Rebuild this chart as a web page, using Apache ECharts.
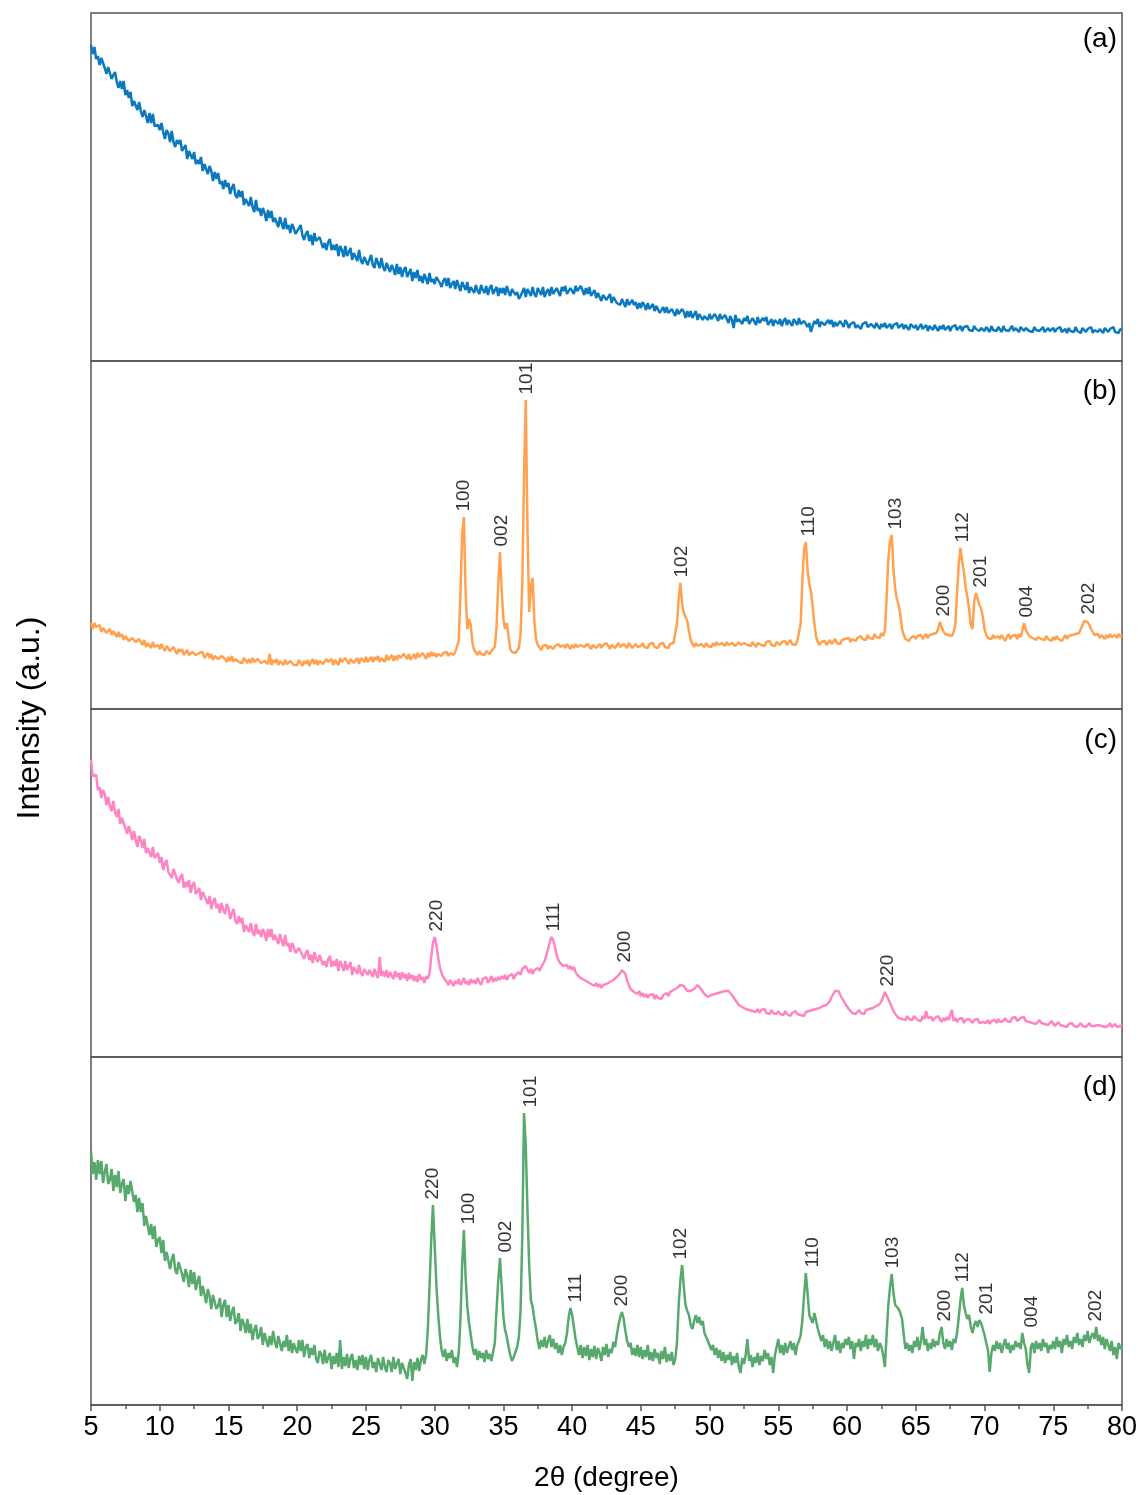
<!DOCTYPE html>
<html><head><meta charset="utf-8">
<script src="https://cdn.jsdelivr.net/npm/echarts@6/dist/echarts.min.js"></script>
<style>html,body{margin:0;padding:0;background:#fff}#c{width:1143px;height:1495px}</style>
</head><body><div id="c"></div>
<script>
// 2θ grid: first angle and step (degrees); each series lists intensities on this grid (5 → 80)
const X_START = 5;
const X_STEP = 0.125;
const X_MIN = 5, X_MAX = 80, X_INTERVAL = 5;

// (a) blue
const seriesA = [
316,307,314,302,305,296,303,304,293,287,294,293,282,286,289,279,273,280,272,280,266,271,263,269,255,260,262,251,259,250,244,251,245,238,248,238,247,235,233,236,
231,238,229,222,231,228,219,230,219,214,221,217,221,210,211,216,202,210,210,202,209,197,201,197,204,190,197,192,187,195,190,180,189,182,188,177,180,172,181,174,
178,167,173,177,166,163,171,164,170,156,162,163,155,164,154,149,161,150,153,145,153,148,140,151,143,150,139,143,144,134,144,137,132,143,132,136,128,137,133,127,
126,133,136,126,121,127,130,120,126,116,128,120,118,124,125,113,118,111,119,122,111,116,111,117,105,115,111,104,115,105,107,113,101,108,109,100,111,101,97,104,
105,96,101,106,96,93,103,98,93,103,94,90,98,100,89,96,92,86,97,87,94,84,91,94,84,86,92,80,89,83,91,80,85,78,87,85,77,88,79,82,
77,84,85,78,74,80,83,75,83,73,77,80,72,81,75,70,79,77,71,79,68,74,76,68,76,70,67,76,71,68,75,66,73,76,67,69,74,65,73,68,
73,66,75,69,65,72,73,66,69,62,65,67,73,64,72,70,65,74,67,64,73,71,66,74,64,69,72,65,74,67,66,73,71,65,74,70,75,67,67,73,
73,67,75,70,68,75,71,66,73,67,74,65,67,71,63,68,69,60,66,68,61,62,67,58,64,65,58,60,56,62,61,54,62,56,54,61,56,59,52,58,
53,59,56,51,58,52,53,57,50,55,56,48,51,54,48,54,48,46,52,50,45,52,47,45,52,49,43,50,44,50,43,45,50,41,47,48,41,45,47,41,
47,42,40,47,44,40,47,42,40,46,44,38,45,41,33,46,39,42,44,37,43,40,45,37,38,43,41,36,44,38,37,43,40,44,36,38,42,35,41,40,
37,42,35,40,43,36,41,38,35,42,40,36,43,37,35,40,42,34,38,29,35,40,37,42,34,39,41,36,34,41,37,41,34,39,35,33,40,38,34,41,
38,33,37,35,39,33,36,38,32,37,35,39,34,32,37,36,33,38,35,32,37,34,38,33,35,37,32,36,34,38,33,35,37,32,36,34,31,37,35,33,
36,31,34,37,32,33,36,30,35,33,31,36,34,30,35,32,36,31,33,35,30,34,32,36,31,33,35,30,34,32,35,31,33,30,35,32,34,30,33,35,
30,34,32,29,35,31,33,30,34,32,29,35,31,33,30,32,35,30,33,31,29,34,32,30,33,35,30,32,29,34,31,33,30,32,34,29,31,33,30,32,
33,29,32,30,34,29,31,32,28,33,30,32,29,34,30,31,28,33,31,29,32,30,34,28,31,33,29,32,30,28,33,31,29,32,30,34,29,31,28,32,
31];

// (b) orange
const seriesB = [
86,80,86,82,80,84,77,81,82,76,77,80,74,78,75,72,77,72,75,69,73,74,68,67,71,72,67,65,70,67,64,69,62,66,66,61,67,62,61,64,
60,65,61,58,63,63,58,56,62,60,55,60,57,60,54,56,59,54,53,57,58,54,52,56,54,57,51,52,56,51,55,49,53,55,50,48,53,54,50,47,
52,48,53,47,50,52,47,49,46,51,52,46,50,46,51,47,45,50,51,46,45,48,50,45,55,44,49,46,50,44,48,49,44,49,45,43,48,49,44,46,
44,49,47,43,48,45,49,43,47,50,45,49,44,48,50,45,44,50,47,45,50,44,49,48,44,51,47,46,51,48,45,50,51,46,47,51,45,51,49,47,
52,47,49,52,47,52,49,53,47,51,52,47,54,49,51,54,48,53,49,54,51,49,55,53,50,55,49,52,55,50,56,52,51,56,54,50,56,52,57,53,
56,52,55,57,53,56,54,57,53,56,58,54,57,58,68,115,175,192,118,80,90,84,66,59,57,54,58,55,57,54,58,56,55,58,57,62,82,125,157,118,
90,80,86,72,60,57,59,56,58,61,75,125,235,309,183,97,122,131,88,70,64,62,59,63,61,64,60,63,65,60,63,61,65,62,60,64,61,65,63,60,
64,61,65,62,60,64,66,62,61,65,63,60,64,66,61,63,65,61,64,62,66,63,60,64,65,61,63,66,62,61,65,63,61,66,64,61,63,65,62,64,
63,66,62,64,61,65,63,66,62,64,61,65,63,66,62,64,61,65,63,66,67,85,110,126,105,96,92,88,78,69,65,62,66,63,61,65,64,62,66,63,
65,62,66,63,67,64,62,66,65,63,67,64,62,66,68,63,65,67,64,62,66,68,64,65,63,67,65,62,66,68,64,66,63,67,65,68,64,66,63,67,
66,64,67,65,68,64,66,69,65,67,64,68,70,85,130,160,167,140,125,117,102,85,72,67,64,67,65,68,64,66,69,65,67,70,66,68,65,69,67,70,
68,71,67,70,72,68,71,69,73,70,72,69,74,71,73,70,75,72,74,71,76,73,78,110,150,168,174,140,120,110,104,94,80,74,70,72,68,71,69,73,
70,73,71,74,70,72,75,71,74,72,75,73,76,80,87,82,78,75,77,74,76,73,77,84,116,145,161,148,137,122,112,100,84,80,108,116,110,104,101,92,
80,74,71,73,70,74,71,69,73,70,74,71,68,72,75,70,73,71,74,70,75,72,78,86,79,76,73,75,71,73,69,72,74,70,72,69,73,70,72,68,
72,69,73,70,72,68,71,74,70,73,71,74,72,75,73,76,80,84,88,89,87,84,80,77,74,72,75,71,74,72,70,74,71,75,72,70,74,71,75,72,
74];

// (c) pink
const seriesC = [
297,281,282,282,267,270,259,267,263,252,260,251,246,256,245,240,248,233,239,240,229,223,231,225,217,226,217,210,221,217,209,218,204,209,211,200,210,199,199,204,
194,200,187,194,197,185,187,179,188,188,178,174,180,183,169,175,170,177,164,172,175,163,165,169,157,165,167,157,153,161,148,155,159,149,153,144,154,147,143,153,
149,138,144,148,136,133,141,134,139,125,132,134,125,134,125,121,133,123,127,120,128,124,116,128,120,128,117,122,123,113,123,116,111,122,111,114,105,114,110,104,
102,109,111,102,98,104,107,97,102,94,105,98,95,102,103,92,96,90,98,101,90,96,91,98,86,96,92,86,96,87,88,95,82,90,91,83,92,84,81,88,
89,82,87,84,80,88,83,79,100,81,86,80,87,79,85,81,78,86,80,84,77,85,79,83,76,84,78,82,76,81,75,83,77,80,74,81,78,84,100,114,
120,112,100,90,84,80,78,75,72,77,74,71,76,73,78,72,75,79,73,76,72,78,74,77,73,79,75,72,78,76,80,74,77,81,75,79,76,80,77,81,
78,82,77,81,79,83,78,82,80,85,82,88,86,91,87,84,88,83,87,85,89,86,90,93,96,102,108,115,120,117,110,102,97,94,96,91,89,92,88,91,
87,90,85,82,84,79,81,77,79,75,77,73,75,71,74,70,73,69,72,70,73,71,75,73,77,76,80,79,84,87,89,83,76,72,68,70,65,67,63,66,
61,64,60,63,59,62,60,63,58,62,59,61,58,62,60,64,61,65,63,67,65,69,68,72,74,71,69,66,64,66,65,68,70,72,70,68,66,63,62,60,
59,62,60,63,61,64,62,65,63,66,64,66,65,62,60,57,55,52,54,50,51,48,50,47,49,46,48,45,48,44,47,45,48,44,46,43,47,44,46,43,
46,43,45,42,46,43,45,41,44,42,46,43,45,42,44,41,45,43,46,44,47,45,48,46,49,48,51,50,52,54,56,60,63,66,67,66,62,59,56,53,
51,48,46,44,46,43,45,47,44,46,43,47,45,48,46,49,48,51,50,53,56,60,65,64,58,54,50,46,43,41,39,41,38,40,37,41,38,40,37,41,
40,37,39,36,41,38,46,39,37,40,36,39,37,41,38,35,39,36,40,37,38,47,36,39,35,38,36,39,34,37,35,38,36,34,37,35,38,34,36,35,
36,34,37,33,36,35,37,34,38,35,37,36,39,36,38,35,39,37,40,36,38,39,37,40,36,38,35,37,34,36,33,35,37,34,36,33,35,32,34,36,
34,31,33,35,32,34,31,33,30,33,32,34,31,33,30,32,34,31,33,30,32,34,31,33,31,29,32,34,31,33,30,32,31,34,30,32,33,30,32,31,
32];

// (d) green
const seriesD = [
254,231,243,225,245,231,244,222,233,241,221,225,236,214,230,218,234,212,221,226,204,220,211,224,222,203,210,193,207,193,202,179,189,191,170,181,166,179,158,165,
168,152,165,144,153,155,136,146,151,135,131,143,145,131,123,136,130,118,135,121,133,115,124,129,109,119,111,102,116,109,96,110,111,96,99,107,88,100,105,88,
100,84,93,98,81,84,92,74,86,81,72,86,72,81,65,75,80,66,69,78,60,72,74,58,69,60,74,63,57,69,71,54,64,58,70,54,65,52,62,56,
52,65,54,65,48,58,61,47,57,50,60,46,42,54,51,41,55,42,44,52,36,49,41,52,38,65,36,48,39,51,37,47,51,37,45,35,49,40,50,36,
48,35,45,50,37,43,33,47,45,35,48,38,33,45,42,33,48,36,37,46,31,42,44,32,26,40,46,24,43,35,47,34,45,50,41,50,75,118,165,200,
160,120,92,70,55,48,56,44,52,47,55,42,48,38,52,85,140,175,128,98,82,70,58,50,56,45,54,47,52,43,55,46,51,44,53,62,95,125,147,118,
88,75,68,58,50,44,48,53,58,68,95,170,292,260,195,140,105,98,86,76,64,56,65,58,68,57,64,70,58,66,56,62,52,60,50,58,62,72,88,97,
90,78,66,58,50,60,47,58,49,60,45,56,48,59,46,57,52,44,58,50,61,48,56,52,63,58,70,80,88,93,86,74,64,58,62,50,57,49,60,48,
58,46,55,48,60,45,53,44,56,47,52,41,54,46,58,43,51,44,53,40,46,62,100,125,140,118,100,94,90,80,76,84,90,82,88,80,84,72,74,64,
62,55,60,50,57,47,55,44,53,42,50,45,53,40,49,42,52,38,32,47,41,50,66,44,50,38,48,42,52,40,49,44,55,46,52,40,48,32,50,58,
66,52,60,50,62,52,58,64,55,62,50,60,64,70,85,110,132,112,90,86,82,92,84,76,74,64,70,58,66,56,64,54,62,70,55,64,52,62,57,66,
60,68,56,64,46,62,58,66,54,64,58,70,56,66,60,70,58,66,54,62,58,50,38,70,100,118,131,112,100,102,96,92,86,70,56,62,54,60,52,64,
58,68,55,64,78,60,66,54,62,56,66,58,64,60,72,78,62,56,66,58,64,55,66,62,72,88,105,117,100,92,86,90,78,72,80,84,78,85,82,76,
70,62,55,33,52,60,54,64,56,62,52,60,66,56,62,52,60,55,64,58,62,56,72,62,56,40,32,58,62,52,64,56,62,54,66,58,62,52,60,56,
64,56,68,58,64,52,66,60,70,58,64,56,68,62,72,60,66,58,70,64,74,62,68,72,66,78,64,70,60,68,56,66,60,54,64,50,58,46,62,56,
60];

// peak annotations: [2θ, hkl]
const labelsB = [[32.09,'100'],[34.9,'002'],[36.73,'101'],[48.0,'102'],[57.2,'110'],[63.55,'103'],[67.0,'200'],[68.4,'112'],[69.75,'201'],[73.1,'004'],[77.6,'202']];
const labelsC = [[30.15,'220'],[38.7,'111'],[43.8,'200'],[62.95,'220']];
const labelsD = [[29.88,'220'],[32.45,'100'],[35.15,'002'],[36.97,'101'],[40.3,'111'],[43.6,'200'],[47.9,'102'],[57.5,'110'],[63.3,'103'],[67.1,'200'],[68.45,'112'],[70.15,'201'],[73.4,'004'],[78.1,'202']];

const panelNames = ['(a)','(b)','(c)','(d)'];
const colors = ['#0a79bf','#ffa14e','#ff85c2','#57a96d'];
const FONT = 'Arial, "Liberation Sans", Helvetica, sans-serif';

const allSeries = [seriesA, seriesB, seriesC, seriesD];
const allLabels = [[], labelsB, labelsC, labelsD];

function toPairs(vals){ return vals.map((v,i)=>[X_START + i*X_STEP, v]); }
function peakNear(vals, x){
  let m = -Infinity;
  vals.forEach((v,i)=>{ const xx = X_START + i*X_STEP; if (xx >= x-0.7 && xx <= x+0.3 && v > m) m = v; });
  return m;
}

const PANEL_TOP = 13, PANEL_H = 348;
const grids = [], xAxes = [], yAxes = [], series = [];
for (let k=0;k<4;k++){
  grids.push({left:91, right:21, top:PANEL_TOP + PANEL_H*k, height:PANEL_H, show:true,
    borderColor:'#555', borderWidth:1.5, backgroundColor:'transparent'});
  const last = k===3;
  xAxes.push({gridIndex:k, type:'value', min:X_MIN, max:X_MAX, interval:X_INTERVAL, show:last,
    axisLine:{show:true, onZero:false, lineStyle:{color:'#555', width:1.5}},
    axisTick:{show:true, inside:false, length:6, lineStyle:{color:'#555', width:1.5}},
    minorTick:{show:true, splitNumber:2, length:4, lineStyle:{color:'#555', width:1.5}},
    splitLine:{show:false}, minorSplitLine:{show:false},
    axisLabel:{fontSize:27, color:'#000', margin:9, fontFamily:FONT},
    name: last ? '2θ (degree)' : '', nameLocation:'middle', nameGap:59,
    nameTextStyle:{fontSize:28, color:'#000', fontFamily:FONT}
  });
  yAxes.push({gridIndex:k, type:'value', min:0, max:PANEL_H, show:false});
  series.push({type:'line', xAxisIndex:k, yAxisIndex:k, data:toPairs(allSeries[k]),
    showSymbol:false, symbol:'none', lineStyle:{color:colors[k], width:2.5}, silent:true, z:3});
  if (allLabels[k].length){
    series.push({type:'scatter', xAxisIndex:k, yAxisIndex:k, symbolSize:1, silent:true, z:4,
      itemStyle:{color:'rgba(0,0,0,0)'},
      data: allLabels[k].map(([x,t])=>({name:t, value:[x, peakNear(allSeries[k], x)]})),
      label:{show:true, formatter:'{b}', position:'top', distance:5, rotate:90,
        align:'left', verticalAlign:'middle', fontSize:19, color:'#000', fontFamily:FONT}
    });
  }
}

const letterY = [39, 391, 740, 1087];
const graphic = panelNames.map((t,k)=>({type:'text', x:1117, y:letterY[k], silent:true,
  style:{text:t, fontSize:28, fontFamily:FONT, fill:'#000', align:'right', verticalAlign:'middle'}}));
graphic.push({type:'text', x:30, y:718, rotation:Math.PI/2, silent:true,
  style:{text:'Intensity (a.u.)', fontSize:32, fontFamily:FONT, fill:'#000', align:'center', verticalAlign:'middle'}});

const chart = echarts.init(document.getElementById('c'), null, {renderer:'canvas'});
chart.setOption({animation:false, backgroundColor:'#fff', grid:grids, xAxis:xAxes, yAxis:yAxes, series:series, graphic:graphic});
</script></body></html>
